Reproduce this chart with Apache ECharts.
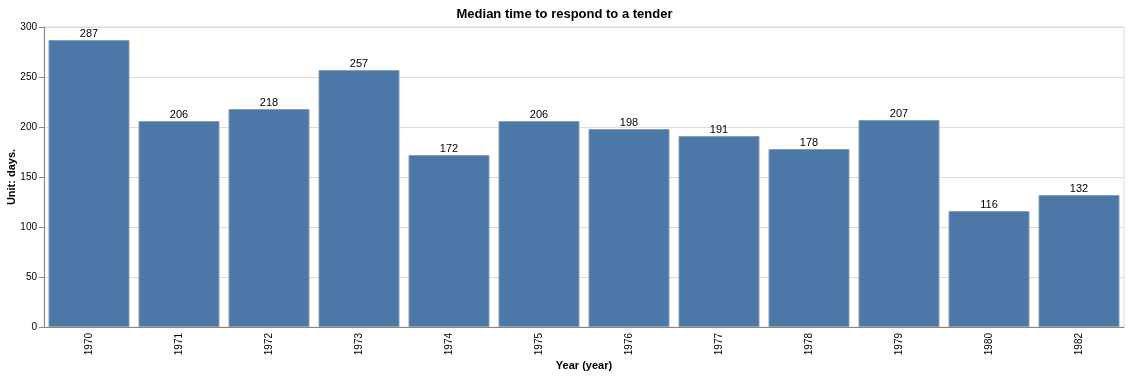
<!DOCTYPE html>
<html><head><meta charset="utf-8">
<script src="https://cdn.jsdelivr.net/npm/echarts@6/dist/echarts.min.js"></script>
<style>html,body{margin:0;padding:0;background:#fff}#c{width:1129px;height:377px}</style>
</head><body><div id="c"></div>
<script>
const categories = ['1970','1971','1972','1973','1974','1975','1976','1977','1978','1979','1980','1982'];
const values = [287,206,218,257,172,206,198,191,178,207,116,132];
const yTicks = [0,50,100,150,200,250,300];

const chart = echarts.init(document.getElementById('c'), null, {renderer:'canvas'});
const font = 'Arial, "Liberation Sans", sans-serif';
chart.setOption({
  animation:false,
  title:{text:'Median time to respond to a tender',left:'center',top:3,
    textStyle:{fontFamily:font,fontSize:13,fontWeight:'bold',color:'#000'}},
  grid:{left:44,right:5,top:27,bottom:50,show:true,borderColor:'#ddd',borderWidth:1,
    outerBoundsMode:'none',containLabel:false},
  xAxis:{type:'category',data:categories,name:'Year (year)',nameLocation:'middle',nameGap:33,
    nameMoveOverlap:false,
    nameTextStyle:{fontFamily:font,fontSize:11,fontWeight:'bold',color:'#000'},
    axisLine:{lineStyle:{color:'#888'}},
    axisTick:{alignWithLabel:true,length:5,lineStyle:{color:'#888'}},
    axisLabel:{rotate:90,fontFamily:font,fontSize:10,color:'#000',margin:6}},
  yAxis:{type:'value',min:0,max:300,interval:50,name:'Unit: days.',nameLocation:'middle',nameGap:27,
    nameMoveOverlap:false,
    nameTextStyle:{fontFamily:font,fontSize:11,fontWeight:'bold',color:'#000'},
    axisLine:{show:true,lineStyle:{color:'#888'}},
    axisTick:{show:true,length:5,lineStyle:{color:'#888'}},
    splitLine:{lineStyle:{color:'#ddd'}},
    axisLabel:{fontFamily:font,fontSize:10,color:'#000',margin:7,
      formatter:v=>yTicks.includes(v)?String(v):''}},
  series:[{type:'bar',data:values,barCategoryGap:'10%',
    itemStyle:{color:'#4c78a8',borderColor:'#8c9db0',borderWidth:1},
    label:{show:true,position:'top',distance:1,fontFamily:font,fontSize:11,color:'#000'}}]
});
</script></body></html>
